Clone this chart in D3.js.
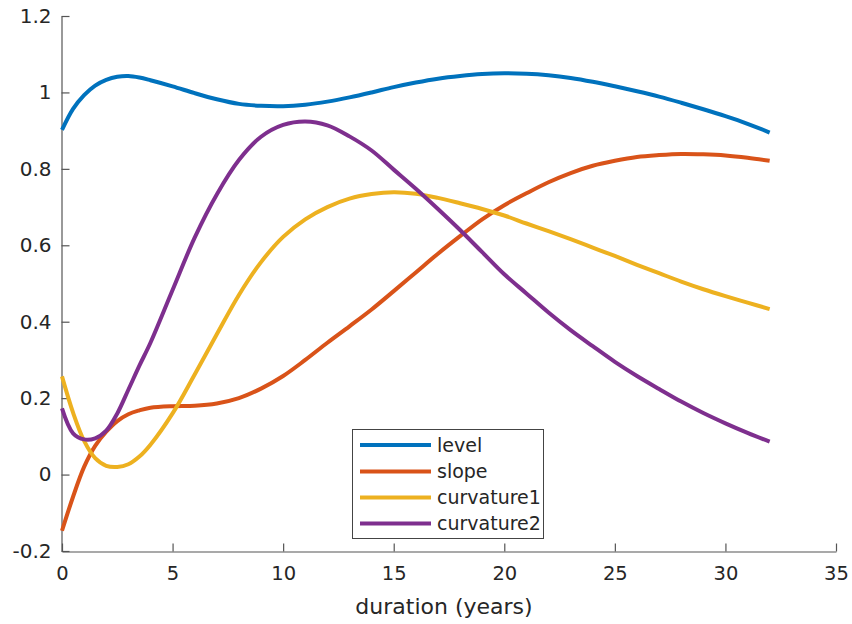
<!DOCTYPE html>
<html>
<head>
<meta charset="utf-8">
<script src="https://cdn.jsdelivr.net/npm/d3@7"></script>
<style>
  html, body { margin: 0; padding: 0; background: #fff; }
  svg { display: block; }
  text { font-family: "DejaVu Sans", "Liberation Sans", Arial, sans-serif; fill: #262626; }
</style>
</head>
<body>
<script>
// ---- data ----
const durations = [0, 0.5, 1, 1.5, 2, 2.5, 3, 3.5, 4, 5, 6, 7, 8, 9, 10, 11, 12, 13, 14, 15, 16,
                   17, 18, 19, 20, 21, 22, 23, 24, 25, 26, 27, 28, 29, 30, 31, 32];
const level = [0.902, 0.957, 0.993, 1.018, 1.033, 1.041, 1.043, 1.039, 1.032, 1.016, 0.998, 0.982, 0.970,
               0.965, 0.964, 0.968, 0.976, 0.987, 1.000, 1.014, 1.026, 1.036, 1.043, 1.048, 1.050,
               1.049, 1.045, 1.038, 1.028, 1.016, 1.003, 0.989, 0.973, 0.956, 0.938, 0.918, 0.895];
const slope = [-0.147, -0.058, 0.020, 0.075, 0.112, 0.140, 0.158, 0.168, 0.175, 0.179, 0.180, 0.186, 0.200,
               0.225, 0.258, 0.300, 0.345, 0.388, 0.432, 0.480, 0.529, 0.578, 0.624, 0.668, 0.705,
               0.736, 0.765, 0.789, 0.808, 0.821, 0.831, 0.836, 0.839, 0.838, 0.835, 0.829, 0.821];
const curvature1 = [0.257, 0.162, 0.088, 0.043, 0.023, 0.020, 0.027, 0.047, 0.078, 0.160, 0.262, 0.367, 0.470,
                    0.556, 0.622, 0.668, 0.700, 0.722, 0.734, 0.739, 0.735, 0.724, 0.710, 0.695, 0.678,
                    0.657, 0.637, 0.616, 0.594, 0.572, 0.549, 0.527, 0.505, 0.485, 0.467, 0.450, 0.433];
const curvature2 = [0.173, 0.108, 0.092, 0.095, 0.115, 0.160, 0.222, 0.285, 0.345, 0.483, 0.620, 0.733, 0.823,
                    0.884, 0.915, 0.924, 0.914, 0.885, 0.848, 0.798, 0.748, 0.695, 0.640, 0.582, 0.524,
                    0.474, 0.424, 0.378, 0.336, 0.295, 0.258, 0.224, 0.191, 0.161, 0.134, 0.109, 0.086];
const seriesNames = ["level", "slope", "curvature1", "curvature2"];
const seriesColors = ["#0072BD", "#D95319", "#EDB120", "#7E2F8E"];
const xTicks = [0, 5, 10, 15, 20, 25, 30, 35];
const yTicks = [-0.2, 0, 0.2, 0.4, 0.6, 0.8, 1, 1.2];
const xLabel = "duration (years)";

// ---- layout ----
const W = 852, H = 624;
const mLeft = 62, mRight = 836, mTop = 16, mBottom = 551;

const svg = d3.select("body").append("svg").attr("width", W).attr("height", H);

const x = d3.scaleLinear().domain([0, 35]).range([mLeft, mRight]);
const y = d3.scaleLinear().domain([-0.2, 1.2]).range([mBottom, mTop]);

const axisColor = "#555";
const fontFam = "DejaVu Sans, Liberation Sans, Arial, sans-serif";

// X axis
const xAxis = d3.axisBottom(x).tickValues(xTicks).tickSizeInner(-8).tickSizeOuter(0)
  .tickPadding(15).tickFormat(d3.format("d"));
const gx = svg.append("g").attr("transform", `translate(0,${mBottom + 0.5})`).call(xAxis);
gx.select(".domain").attr("stroke", axisColor).attr("stroke-width", 1.2);
gx.selectAll(".tick line").attr("stroke", axisColor).attr("stroke-width", 1.2);
gx.selectAll(".tick text").attr("font-size", 19.5).attr("fill", "#262626").attr("font-family", fontFam);

// Y axis
const yAxis = d3.axisLeft(y).tickValues(yTicks).tickSizeInner(-8).tickSizeOuter(0)
  .tickPadding(10).tickFormat(d => String(+d.toFixed(1)));
const gy = svg.append("g").attr("transform", `translate(${mLeft - 0.5},0)`).call(yAxis);
gy.select(".domain").attr("stroke", axisColor).attr("stroke-width", 1.2);
gy.selectAll(".tick line").attr("stroke", axisColor).attr("stroke-width", 1.2);
gy.selectAll(".tick text").attr("font-size", 20).attr("fill", "#262626").attr("font-family", fontFam);

// X label
svg.append("text").attr("x", 444).attr("y", 614)
  .attr("text-anchor", "middle").attr("font-size", 22).text(xLabel);

// Lines
const allSeries = [level, slope, curvature1, curvature2];
const line = d3.line().x((d, i) => x(durations[i])).y(d => y(d)).curve(d3.curveCatmullRom.alpha(0.5));
allSeries.forEach((s, k) => {
  svg.append("path").datum(s).attr("d", line).attr("fill", "none")
    .attr("stroke", seriesColors[k]).attr("stroke-width", 4).attr("stroke-linejoin", "round");
});

// Legend
const lg = svg.append("g");
const lx = 352.5, ly = 429.5, lw = 191, lh = 109;
lg.append("rect").attr("x", lx).attr("y", ly).attr("width", lw).attr("height", lh)
  .attr("fill", "#fff").attr("stroke", "#444").attr("stroke-width", 1);
const rowY = [445, 471.5, 497.5, 523.5];
seriesNames.forEach((n, k) => {
  lg.append("line").attr("x1", 360).attr("x2", 431).attr("y1", rowY[k]).attr("y2", rowY[k])
    .attr("stroke", seriesColors[k]).attr("stroke-width", 4);
  lg.append("text").attr("x", 437).attr("y", rowY[k]).attr("dy", "0.35em")
    .attr("font-size", 19).text(n);
});
</script>
</body>
</html>
